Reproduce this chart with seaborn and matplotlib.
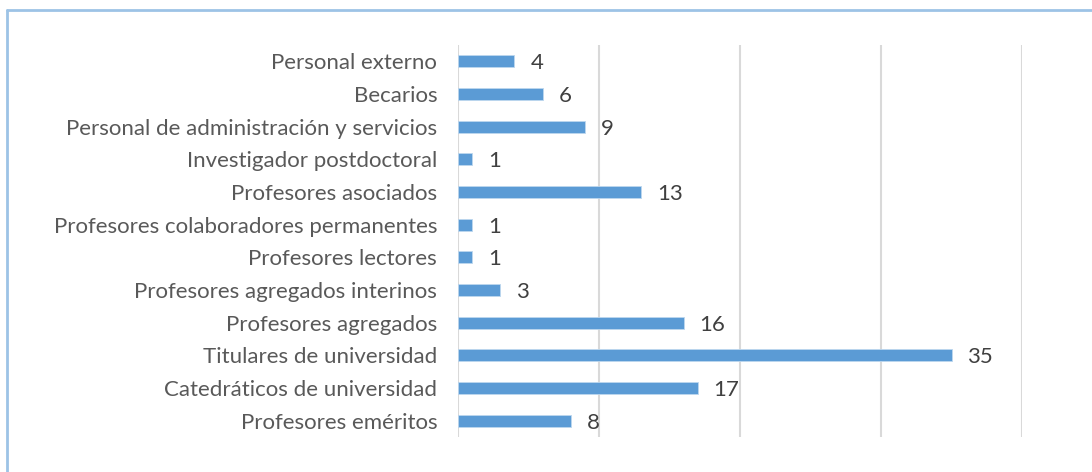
import matplotlib
matplotlib.use("Agg")
import matplotlib.pyplot as plt
import seaborn as sns
import pandas as pd
from matplotlib.lines import Line2D

categories = [
    "Personal externo",
    "Becarios",
    "Personal de administración y servicios",
    "Investigador postdoctoral",
    "Profesores asociados",
    "Profesores colaboradores permanentes",
    "Profesores lectores",
    "Profesores agregados interinos",
    "Profesores agregados",
    "Titulares de universidad",
    "Catedráticos de universidad",
    "Profesores eméritos",
]
values = [4, 6, 9, 1, 13, 1, 1, 3, 16, 35, 17, 8]
grid_ticks = [0, 10, 20, 30, 40]

sns.set_theme(style="white")
plt.rcParams['font.family'] = ['Lato', 'DejaVu Sans']

df = pd.DataFrame({"cat": categories, "val": values})

fig = plt.figure(figsize=(10.92, 4.72), dpi=100)
ax = fig.add_axes([458/1092, 1-437/472, (1022-458)/1092, (437-45)/472])

sns.barplot(data=df, y="cat", x="val", orient="h", order=categories,
            color="#5B9BD5", saturation=1, width=0.37,
            edgecolor="#BDD7EE", linewidth=0.6, ax=ax, zorder=3)

ax.set_xlim(0, 40)
ax.set_ylim(11.5, -0.5)
ax.set_xticks(grid_ticks)
ax.set_xticklabels([])
for t in grid_ticks:
    ax.axvline(t, color="#D9D9D9", lw=1.5, zorder=1)
for s in ax.spines.values():
    s.set_visible(False)
ax.set_xlabel("")
ax.set_ylabel("")
ax.tick_params(axis="y", length=0, pad=15, labelsize=16, labelcolor="#595959")
ax.tick_params(axis="x", length=0)

for p, v in zip(ax.patches, values):
    y = p.get_y() + p.get_height() / 2
    ax.annotate(str(v), xy=(p.get_width(), y), xytext=(16, -2),
                textcoords="offset pixels",
                va="center", ha="left", fontsize=16, color="#404040")

fig.add_artist(Line2D([7/1092, 7/1092], [0, 1-9.5/472], transform=fig.transFigure,
                      color="#9DC3E6", lw=2))
fig.add_artist(Line2D([7/1092, 1], [1-9.5/472, 1-9.5/472], transform=fig.transFigure,
                      color="#9DC3E6", lw=2))

fig.savefig("out.png", dpi=100)
